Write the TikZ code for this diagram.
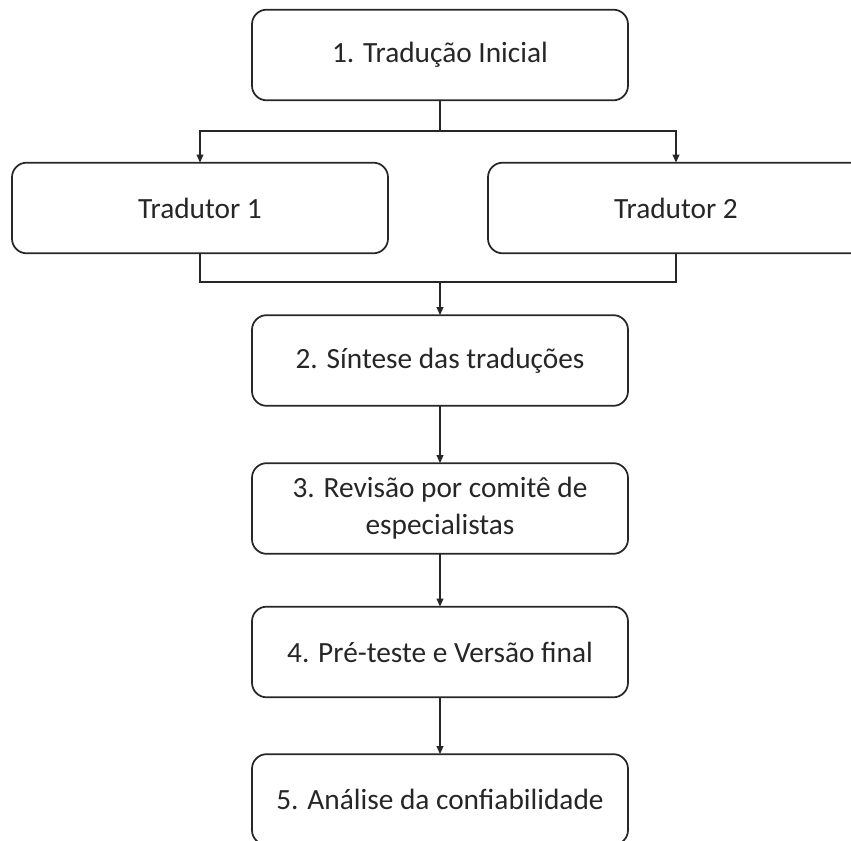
\documentclass[tikz,border=0pt]{standalone}
\usepackage{fontspec}
\setmainfont{Carlito}
\usetikzlibrary{arrows.meta}
\begin{document}
\begin{tikzpicture}[x=0.75pt,y=-0.75pt,
  stepbox/.style={draw=black!85,line width=1.3pt,rounded corners=11pt,
    minimum width=282pt,minimum height=68pt,align=center,
    font=\fontsize{22pt}{27.5pt}\selectfont,text=black!85,inner sep=2pt,outer sep=0pt},
  link/.style={draw=black!85,line width=1.1pt},
  flow/.style={link,-{Triangle[length=6pt,width=5pt]}}]
\useasboundingbox (0,0) rectangle (851,841);
\clip (0,0) rectangle (851,841);
\node[stepbox] (s1) at (440,55) {1. Tradução Inicial};
\node[stepbox] (t1) at (200,208) {Tradutor 1};
\node[stepbox] (t2) at (676,208) {Tradutor 2};
\node[stepbox] (s2) at (440,360.5) {2. Síntese das traduções};
\node[stepbox] (s3) at (440,508.5) {3. Revisão por comitê de\\especialistas};
\node[stepbox] (s4) at (440,652) {4. Pré-teste e Versão final};
\node[stepbox] (s5) at (440,799.5) {5. Análise da confiabilidade};
% split to the two translators
\coordinate (split) at (440,131);
\coordinate (join) at (440,282);
\draw[link] (s1.south) -- (split);
\draw[flow] (split) -| (t1.north);
\draw[flow] (split) -| (t2.north);
% merge of the two translations
\draw[link] (t1.south) |- (join) -| (t2.south);
\draw[flow] (join) -- (s2.north);
\draw[flow] (s2.south) -- (s3.north);
\draw[flow] (s3.south) -- (s4.north);
\draw[flow] (s4.south) -- (s5.north);
\end{tikzpicture}
\end{document}
